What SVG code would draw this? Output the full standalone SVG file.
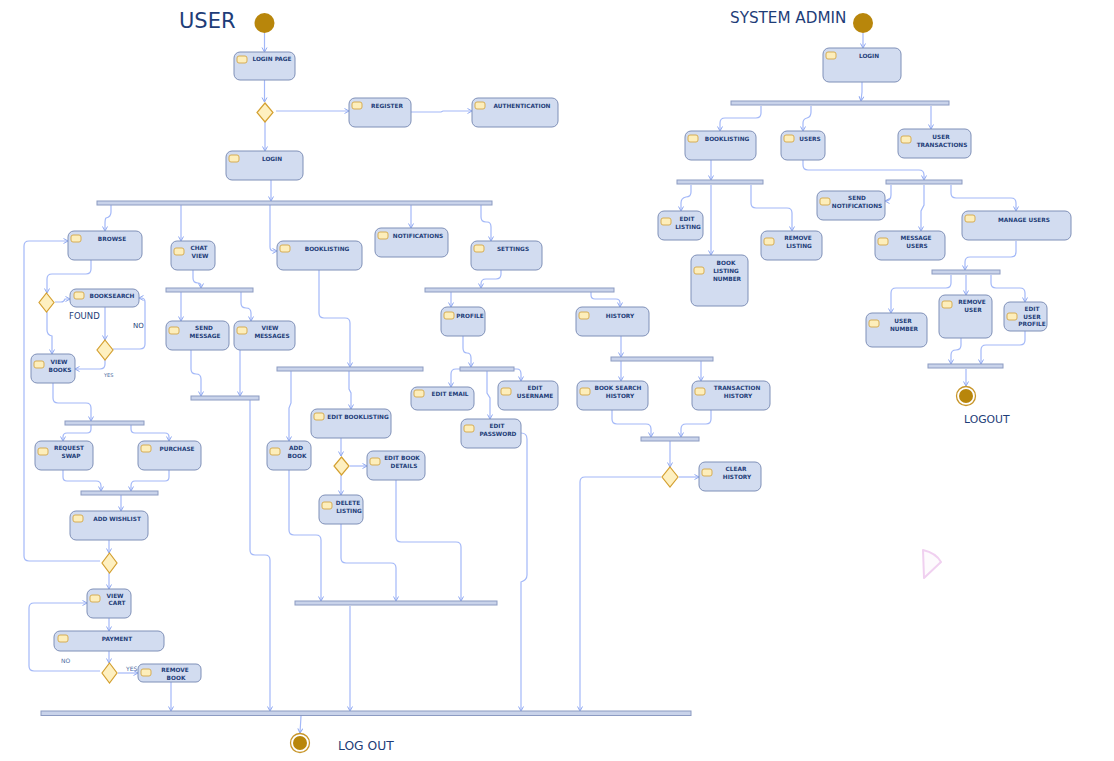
<svg xmlns="http://www.w3.org/2000/svg" width="1114" height="761" viewBox="0 0 1114 761">
<style>
.nd{fill:#d2dcf0;stroke:#7f90b8;stroke-width:1}
.ic{fill:#fdeebb;stroke:#d6ad55;stroke-width:1}
.lb{font-family:"DejaVu Sans",sans-serif;font-weight:bold;font-size:5.8px;fill:#1e3d78;text-anchor:middle}
.bar{fill:#c9d3ea;stroke:#8c9bc2;stroke-width:1}
.dm{fill:#fef0c0;stroke:#d4a030;stroke-width:1.2}
.cn path{fill:none;stroke:#a3b8f8;stroke-width:1.2;marker-end:url(#ah)}
.tt{font-family:"DejaVu Sans",sans-serif;fill:#1e3d78}
.sm{font-family:"DejaVu Sans",sans-serif;fill:#4a6aa0}
.st{fill:#b8860b}
.ring{fill:#fff;stroke:#c8962a;stroke-width:1.3}
</style>
<defs>
<marker id="ah" markerWidth="8" markerHeight="8" refX="5" refY="3" orient="auto" markerUnits="userSpaceOnUse"><path d="M0.5,0.5 L5,3 L0.5,5.5" fill="none" stroke="#8fa8f0" stroke-width="1"/></marker>
</defs>
<rect width="1114" height="761" fill="#fff"/>

<text class="tt" x="179" y="28" font-size="21">USER</text>
<text class="tt" x="730" y="23" font-size="15.2">SYSTEM ADMIN</text>
<text class="tt" x="69" y="319" font-size="8.5">FOUND</text>
<text class="tt" x="133" y="328" font-size="7">NO</text>
<text class="sm" x="104" y="377" font-size="5">YES</text>
<text class="sm" x="61" y="663" font-size="6">NO</text>
<text class="sm" x="126" y="671" font-size="6">YES</text>
<text class="tt" x="338" y="750" font-size="12.3">LOG OUT</text>
<text class="tt" x="964" y="423" font-size="10.8">LOGOUT</text>

<g id="connectors" class="cn">
<path d="M264.5 33 V52"/>
<path d="M264.5 80 V102"/>
<path d="M276 111 H349"/>
<path d="M411 112 H441 L443 111 H472"/>
<path d="M265 122 V151"/>
<path d="M271 180 V201"/>
<path d="M111 205 V212 Q111 217 106 218 Q105 219 105 224 V231"/>
<path d="M181 205 V241"/>
<path d="M270 205 V247 Q270 251 274 251 H277"/>
<path d="M411 205 V228"/>
<path d="M481 205 V217 Q481 222 486 222 H487 Q491 222 491 227 V241"/>
<path d="M193 270 V278 Q193 283 198 283 Q201 283 201 286 V288"/>
<path d="M181 292 V321"/>
<path d="M241 292 V303 Q241 308 246 308 Q251 308 251 313 V321"/>
<path d="M191 350 V369 Q191 374 196 374 Q201 374 201 379 V396"/>
<path d="M240 350 V396"/>
<path d="M250 400 V550 Q250 555 255 555 H265 Q270 555 270 560 V711"/>
<path d="M319 270 V313 Q319 318 324 318 H345 Q350 318 350 323 V367"/>
<path d="M291 371 V403 L289 408 V441"/>
<path d="M349 371 V389 L351 393 V409"/>
<path d="M341 438 V456"/>
<path d="M350 466 H367"/>
<path d="M341 475 V495"/>
<path d="M289 470 V530 Q289 535 294 535 H316 Q321 535 321 540 V601"/>
<path d="M341 524 V558 Q341 563 346 563 H391 Q396 563 396 568 V601"/>
<path d="M396 480 V537 Q396 542 401 542 H456 Q461 542 461 547 V601"/>
<path d="M350 606 V711"/>
<path d="M501 270 V274 Q501 279 496 279 H486 Q481 279 481 284 V288"/>
<path d="M451 292 V307"/>
<path d="M591 292 V295 Q591 299 595 299 H616 Q620 299 620 303 V307"/>
<path d="M463 336 V348 Q463 353 467 353 Q471 353 471 358 V367"/>
<path d="M460 369 H456 Q451 369 451 374 V387"/>
<path d="M514 369 H517 Q521 369 521 374 V381"/>
<path d="M487 371 V393 L490 398 V419"/>
<path d="M521 433 Q527 433 527 439 V575 Q527 580 521 582 V711"/>
<path d="M621 336 V357"/>
<path d="M621 361 V381"/>
<path d="M701 361 V381"/>
<path d="M612 410 V419 Q612 424 617 424 H646 Q651 424 651 429 V437"/>
<path d="M711 410 V419 Q711 424 706 424 H686 Q681 424 681 429 V437"/>
<path d="M670 441 V467"/>
<path d="M679 477 H699"/>
<path d="M661 477 H585 Q580 477 580 482 V711"/>
<path d="M91 260 V269 Q91 274 86 274 H52 Q47 274 47 279 V293"/>
<path d="M55 302 H61 Q64 302 65 299 H70"/>
<path d="M105 307 V340"/>
<path d="M113 349 H140 Q145 349 145 344 V302 Q145 298 141 298 H139"/>
<path d="M105 360 V364 Q105 369 100 369 H75"/>
<path d="M47 312 V330 Q47 335 52 336 V354"/>
<path d="M53 383 V398 Q53 403 58 403 H86 Q91 403 91 408 V421"/>
<path d="M91 425 V429 Q91 433 87 433 H67 Q63 433 63 437 V441"/>
<path d="M131 425 V429 Q131 433 135 433 H165 Q169 433 169 437 V441"/>
<path d="M63 470 V477 Q63 481 67 481 H96 Q101 481 101 486 V491"/>
<path d="M169 470 V477 Q169 481 165 481 H135 Q131 481 131 486 V491"/>
<path d="M121 495 V511"/>
<path d="M109 540 V553"/>
<path d="M100 561 H29 Q24 561 24 556 V246 Q24 241 29 241 H68"/>
<path d="M109 573 V589"/>
<path d="M109 618 V631"/>
<path d="M109 651 V663"/>
<path d="M100 671 H34 Q29 671 29 666 V608 Q29 603 34 603 H87"/>
<path d="M118 673 H138"/>
<path d="M171 682 V711"/>
<path d="M301 716 L300 733"/>
<path d="M863 33 V48"/>
<path d="M862 82 V92 L861 101"/>
<path d="M761 106 V113 Q761 118 756 118 H725 Q720 118 720 123 V131"/>
<path d="M811 106 V112 Q811 117 807 118 Q803 119 803 123 V131"/>
<path d="M931 106 V129"/>
<path d="M711 160 V180"/>
<path d="M691 185 V192 Q691 197 686 197 Q681 198 681 203 V211"/>
<path d="M711 185 V255"/>
<path d="M751 185 V203 Q751 208 756 208 H787 Q792 208 792 213 V231"/>
<path d="M803 160 V165 Q803 170 808 170 H919 Q924 170 924 175 V180"/>
<path d="M891 185 V195 Q891 201 885 201"/>
<path d="M924 185 V205 L921 211 V231"/>
<path d="M951 185 V193 Q951 198 956 198 H1011 Q1016 198 1016 203 V211"/>
<path d="M1016 241 V252 Q1016 257 1011 257 H970 Q965 257 965 262 V270"/>
<path d="M951 275 V283 Q951 288 946 288 H896 Q891 288 891 293 V313"/>
<path d="M966 275 V295"/>
<path d="M991 275 V283 Q991 288 996 288 H1020 Q1025 288 1025 293 V302"/>
<path d="M961 338 V345 Q961 350 956 350 Q951 350 951 355 V364"/>
<path d="M1025 331 V340 Q1025 345 1020 345 H986 Q981 345 981 350 V364"/>
<path d="M966 369 V386"/>
</g>

<g id="bars">
<rect class="bar" x="97" y="201" width="395" height="4"/>
<rect class="bar" x="166" y="288" width="87" height="4"/>
<rect class="bar" x="191" y="396" width="68" height="4"/>
<rect class="bar" x="277" y="367" width="146" height="4"/>
<rect class="bar" x="295" y="601" width="202" height="4"/>
<rect class="bar" x="425" y="288" width="189" height="4"/>
<rect class="bar" x="460" y="367" width="54" height="4"/>
<rect class="bar" x="611" y="357" width="102" height="4"/>
<rect class="bar" x="641" y="437" width="58" height="4"/>
<rect class="bar" x="65" y="421" width="79" height="4"/>
<rect class="bar" x="81" y="491" width="77" height="4"/>
<rect class="bar" x="41" y="711" width="650" height="4.5"/>
<rect class="bar" x="731" y="101" width="218" height="4"/>
<rect class="bar" x="677" y="180" width="86" height="4"/>
<rect class="bar" x="886" y="180" width="76" height="4"/>
<rect class="bar" x="932" y="270" width="68" height="4"/>
<rect class="bar" x="928" y="364" width="75" height="4"/>
</g>

<g id="start-user"><circle class="st" cx="264.5" cy="23" r="10"/></g>
<g id="start-admin"><circle class="st" cx="863" cy="23" r="10"/></g>
<g id="end-user"><circle class="ring" cx="300" cy="743" r="9.5"/><circle class="st" cx="300" cy="743" r="7"/></g>
<g id="end-admin"><circle class="ring" cx="966" cy="396" r="9.5"/><circle class="st" cx="966" cy="396" r="7"/></g>

<g id="d-login"><path class="dm" d="M265 103 L273 112.5 L265 122 L257 112.5 Z"/></g>
<g id="d-editbook"><path class="dm" d="M341.5 457 L349 466 L341.5 475 L334 466 Z"/></g>
<g id="d-history"><path class="dm" d="M670 467 L678 477 L670 487 L662 477 Z"/></g>
<g id="d-browse"><path class="dm" d="M46.5 293 L54 302.5 L46.5 312 L39 302.5 Z"/></g>
<g id="d-found"><path class="dm" d="M105 340 L113 350 L105 360 L97 350 Z"/></g>
<g id="d-wishlist"><path class="dm" d="M109.5 553 L117 563 L109.5 573 L102 563 Z"/></g>
<g id="d-payment"><path class="dm" d="M109.5 663 L117 673 L109.5 683 L102 673 Z"/></g>

<g id="n-login-page"><rect class="nd" x="234" y="52" width="61" height="28" rx="6"/><rect class="ic" x="237" y="56" width="10" height="7" rx="2"/><text class="lb" x="272" y="61">LOGIN PAGE</text></g>
<g id="n-register"><rect class="nd" x="349" y="98" width="62" height="29" rx="6"/><rect class="ic" x="352" y="102" width="10" height="7" rx="2"/><text class="lb" x="387" y="108">REGISTER</text></g>
<g id="n-authentication"><rect class="nd" x="472" y="98" width="86" height="29" rx="6"/><rect class="ic" x="475" y="102" width="10" height="7" rx="2"/><text class="lb" x="522" y="108">AUTHENTICATION</text></g>
<g id="n-login"><rect class="nd" x="226" y="151" width="77" height="29" rx="6"/><rect class="ic" x="229" y="155" width="10" height="7" rx="2"/><text class="lb" x="272" y="161">LOGIN</text></g>
<g id="n-browse"><rect class="nd" x="68" y="231" width="74" height="29" rx="6"/><rect class="ic" x="71" y="235" width="10" height="7" rx="2"/><text class="lb" x="112" y="241">BROWSE</text></g>
<g id="n-chat-view"><rect class="nd" x="171" y="241" width="44" height="29" rx="6"/><rect class="ic" x="174" y="248" width="10" height="7" rx="2"/><text class="lb" x="199" y="250">CHAT</text><text class="lb" x="200" y="258">VIEW</text></g>
<g id="n-booklisting"><rect class="nd" x="277" y="241" width="85" height="29" rx="6"/><rect class="ic" x="280" y="245" width="10" height="7" rx="2"/><text class="lb" x="327" y="251">BOOKLISTING</text></g>
<g id="n-notifications"><rect class="nd" x="375" y="228" width="73" height="29" rx="6"/><rect class="ic" x="378" y="232" width="10" height="7" rx="2"/><text class="lb" x="418" y="238">NOTIFICATIONS</text></g>
<g id="n-settings"><rect class="nd" x="471" y="241" width="71" height="29" rx="6"/><rect class="ic" x="474" y="245" width="10" height="7" rx="2"/><text class="lb" x="513" y="251">SETTINGS</text></g>
<g id="n-send-message"><rect class="nd" x="166" y="321" width="63" height="29" rx="6"/><rect class="ic" x="169" y="327" width="10" height="7" rx="2"/><text class="lb" x="204" y="330">SEND</text><text class="lb" x="205" y="338">MESSAGE</text></g>
<g id="n-view-messages"><rect class="nd" x="234" y="321" width="61" height="29" rx="6"/><rect class="ic" x="237" y="327" width="10" height="7" rx="2"/><text class="lb" x="270" y="330">VIEW</text><text class="lb" x="272" y="338">MESSAGES</text></g>
<g id="n-profile"><rect class="nd" x="441" y="307" width="44" height="29" rx="6"/><rect class="ic" x="444" y="312" width="10" height="7" rx="2"/><text class="lb" x="470" y="318">PROFILE</text></g>
<g id="n-history"><rect class="nd" x="576" y="307" width="73" height="29" rx="6"/><rect class="ic" x="579" y="312" width="10" height="7" rx="2"/><text class="lb" x="620" y="318">HISTORY</text></g>
<g id="n-edit-email"><rect class="nd" x="411" y="387" width="63" height="23" rx="6"/><rect class="ic" x="414" y="390" width="10" height="7" rx="2"/><text class="lb" x="450" y="396">EDIT EMAIL</text></g>
<g id="n-edit-username"><rect class="nd" x="498" y="381" width="60" height="29" rx="6"/><rect class="ic" x="501" y="388" width="10" height="7" rx="2"/><text class="lb" x="535" y="390">EDIT</text><text class="lb" x="535" y="398">USERNAME</text></g>
<g id="n-edit-password"><rect class="nd" x="461" y="419" width="60" height="29" rx="6"/><rect class="ic" x="464" y="425" width="10" height="7" rx="2"/><text class="lb" x="497" y="428">EDIT</text><text class="lb" x="498" y="436">PASSWORD</text></g>
<g id="n-book-search-history"><rect class="nd" x="577" y="381" width="71" height="29" rx="6"/><rect class="ic" x="580" y="388" width="10" height="7" rx="2"/><text class="lb" x="618" y="390">BOOK SEARCH</text><text class="lb" x="620" y="398">HISTORY</text></g>
<g id="n-transaction-history"><rect class="nd" x="692" y="381" width="78" height="29" rx="6"/><rect class="ic" x="695" y="388" width="10" height="7" rx="2"/><text class="lb" x="737" y="390">TRANSACTION</text><text class="lb" x="738" y="398">HISTORY</text></g>
<g id="n-clear-history"><rect class="nd" x="699" y="462" width="62" height="29" rx="6"/><rect class="ic" x="702" y="469" width="10" height="7" rx="2"/><text class="lb" x="736" y="471">CLEAR</text><text class="lb" x="737" y="479">HISTORY</text></g>
<g id="n-booksearch"><rect class="nd" x="70" y="289" width="69" height="18" rx="6"/><rect class="ic" x="74" y="292" width="10" height="7" rx="2"/><text class="lb" x="112" y="298">BOOKSEARCH</text></g>
<g id="n-view-books"><rect class="nd" x="31" y="354" width="44" height="29" rx="6"/><rect class="ic" x="34" y="361" width="10" height="7" rx="2"/><text class="lb" x="59" y="364">VIEW</text><text class="lb" x="60" y="372">BOOKS</text></g>
<g id="n-request-swap"><rect class="nd" x="35" y="441" width="58" height="29" rx="6"/><rect class="ic" x="38" y="448" width="10" height="7" rx="2"/><text class="lb" x="69" y="450">REQUEST</text><text class="lb" x="71" y="458">SWAP</text></g>
<g id="n-purchase"><rect class="nd" x="138" y="441" width="63" height="29" rx="6"/><rect class="ic" x="141" y="445" width="10" height="7" rx="2"/><text class="lb" x="177" y="451">PURCHASE</text></g>
<g id="n-add-wishlist"><rect class="nd" x="70" y="511" width="78" height="29" rx="6"/><rect class="ic" x="73" y="515" width="10" height="7" rx="2"/><text class="lb" x="117" y="521">ADD WISHLIST</text></g>
<g id="n-view-cart"><rect class="nd" x="87" y="589" width="44" height="29" rx="6"/><rect class="ic" x="90" y="595" width="10" height="7" rx="2"/><text class="lb" x="115" y="598">VIEW</text><text class="lb" x="117" y="605">CART</text></g>
<g id="n-payment"><rect class="nd" x="54" y="631" width="110" height="20" rx="6"/><rect class="ic" x="58" y="635" width="10" height="7" rx="2"/><text class="lb" x="117" y="641">PAYMENT</text></g>
<g id="n-remove-book"><rect class="nd" x="138" y="664" width="63" height="18" rx="5"/><rect class="ic" x="141" y="669" width="10" height="7" rx="2"/><text class="lb" x="175" y="672">REMOVE</text><text class="lb" x="176" y="680">BOOK</text></g>
<g id="n-add-book"><rect class="nd" x="267" y="441" width="44" height="29" rx="6"/><rect class="ic" x="270" y="448" width="10" height="7" rx="2"/><text class="lb" x="296" y="450">ADD</text><text class="lb" x="297" y="458">BOOK</text></g>
<g id="n-edit-booklisting"><rect class="nd" x="311" y="409" width="80" height="29" rx="6"/><rect class="ic" x="314" y="413" width="10" height="7" rx="2"/><text class="lb" x="358" y="419">EDIT BOOKLISTING</text></g>
<g id="n-edit-book-details"><rect class="nd" x="367" y="451" width="58" height="29" rx="6"/><rect class="ic" x="370" y="458" width="10" height="7" rx="2"/><text class="lb" x="402" y="460">EDIT BOOK</text><text class="lb" x="404" y="468">DETAILS</text></g>
<g id="n-delete-listing"><rect class="nd" x="319" y="495" width="44" height="29" rx="6"/><rect class="ic" x="322" y="502" width="10" height="7" rx="2"/><text class="lb" x="348" y="505">DELETE</text><text class="lb" x="349" y="513">LISTING</text></g>

<g id="n-admin-login"><rect class="nd" x="823" y="48" width="78" height="34" rx="6"/><rect class="ic" x="826" y="52" width="10" height="7" rx="2"/><text class="lb" x="869" y="58">LOGIN</text></g>
<g id="n-admin-booklisting"><rect class="nd" x="685" y="131" width="71" height="29" rx="6"/><rect class="ic" x="688" y="135" width="10" height="7" rx="2"/><text class="lb" x="727" y="141">BOOKLISTING</text></g>
<g id="n-users"><rect class="nd" x="781" y="131" width="44" height="29" rx="6"/><rect class="ic" x="784" y="135" width="10" height="7" rx="2"/><text class="lb" x="810" y="141">USERS</text></g>
<g id="n-user-transactions"><rect class="nd" x="898" y="129" width="73" height="29" rx="6"/><rect class="ic" x="901" y="136" width="10" height="7" rx="2"/><text class="lb" x="941" y="139">USER</text><text class="lb" x="942" y="147">TRANSACTIONS</text></g>
<g id="n-send-notifications"><rect class="nd" x="817" y="191" width="68" height="29" rx="6"/><rect class="ic" x="820" y="198" width="10" height="7" rx="2"/><text class="lb" x="857" y="200">SEND</text><text class="lb" x="857" y="208">NOTIFICATIONS</text></g>
<g id="n-edit-listing"><rect class="nd" x="658" y="211" width="45" height="29" rx="6"/><rect class="ic" x="661" y="218" width="10" height="7" rx="2"/><text class="lb" x="687" y="221">EDIT</text><text class="lb" x="688" y="229">LISTING</text></g>
<g id="n-book-listing-number"><rect class="nd" x="691" y="255" width="57" height="51" rx="6"/><rect class="ic" x="694" y="267" width="10" height="7" rx="2"/><text class="lb" x="726" y="265">BOOK</text><text class="lb" x="726" y="273">LISTING</text><text class="lb" x="727" y="280.5">NUMBER</text></g>
<g id="n-remove-listing"><rect class="nd" x="761" y="231" width="61" height="29" rx="6"/><rect class="ic" x="764" y="238" width="10" height="7" rx="2"/><text class="lb" x="798" y="240">REMOVE</text><text class="lb" x="799" y="248">LISTING</text></g>
<g id="n-message-users"><rect class="nd" x="875" y="231" width="70" height="29" rx="6"/><rect class="ic" x="878" y="238" width="10" height="7" rx="2"/><text class="lb" x="916" y="240">MESSAGE</text><text class="lb" x="917" y="248">USERS</text></g>
<g id="n-manage-users"><rect class="nd" x="962" y="211" width="109" height="29" rx="6"/><rect class="ic" x="965" y="215" width="10" height="7" rx="2"/><text class="lb" x="1024" y="222">MANAGE USERS</text></g>
<g id="n-user-number"><rect class="nd" x="866" y="313" width="61" height="34" rx="6"/><rect class="ic" x="869" y="320" width="10" height="7" rx="2"/><text class="lb" x="903" y="323">USER</text><text class="lb" x="904" y="330.5">NUMBER</text></g>
<g id="n-remove-user"><rect class="nd" x="939" y="295" width="53" height="43" rx="6"/><rect class="ic" x="942" y="301" width="10" height="7" rx="2"/><text class="lb" x="972" y="304">REMOVE</text><text class="lb" x="973" y="312">USER</text></g>
<g id="n-edit-user-profile"><rect class="nd" x="1004" y="302" width="43" height="29" rx="6"/><rect class="ic" x="1007" y="313" width="10" height="7" rx="2"/><text class="lb" x="1032" y="311">EDIT</text><text class="lb" x="1032" y="318.5">USER</text><text class="lb" x="1032" y="326">PROFILE</text></g>

<path d="M923 550 Q936 553 941 562 L924 578 Z" fill="#fdfafd" stroke="#f0d0f0" stroke-width="2" stroke-linejoin="round"/>
</svg>
